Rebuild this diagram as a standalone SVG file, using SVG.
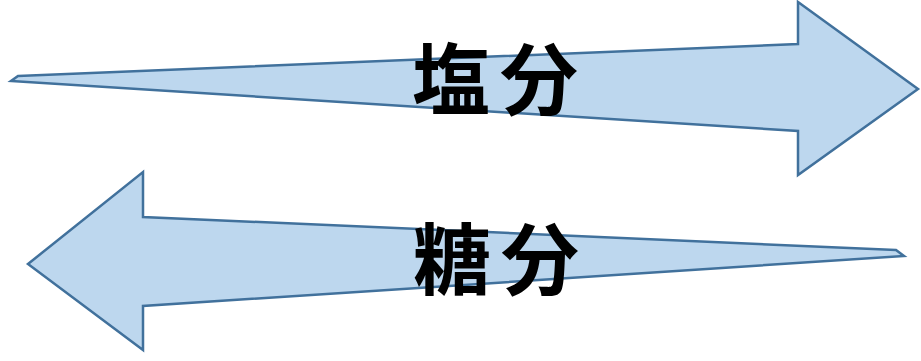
<svg xmlns="http://www.w3.org/2000/svg" width="921" height="361" viewBox="0 0 921 361">
<style>
.arr{fill:#bdd7ee;stroke:#41719c;stroke-width:2.5;stroke-linejoin:miter}
.lbl{font-family:"Noto Sans CJK JP","Noto Sans CJK SC",sans-serif;font-weight:700;font-size:78px;letter-spacing:10px;fill:#000;text-anchor:middle}
</style>
<rect width="921" height="361" fill="#fff"/>
<g id="salt">
<polygon class="arr" points="18,76 798,44 798,2 918,89 798,175 798,131 11,81"/>
<text class="lbl" x="500" y="109">塩分</text>
</g>
<g id="sugar">
<polygon class="arr" points="896,250 143,217 143,172 28,264 143,350 143,306 904,256"/>
<text class="lbl" x="501" y="289">糖分</text>
</g>
</svg>
